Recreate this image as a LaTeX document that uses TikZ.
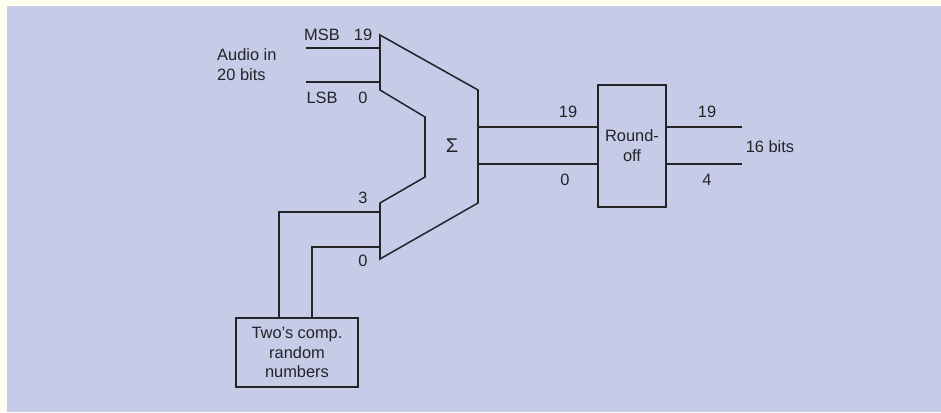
\documentclass[tikz,border=0pt]{standalone}
\usepackage{fontspec}
\setmainfont{Liberation Sans}
\usetikzlibrary{positioning,calc}

\definecolor{paper}{RGB}{198,204,232}
\definecolor{ink}{RGB}{35,35,40}

\tikzset{
  wire/.style={draw=ink, line width=1.3pt},
  blockbox/.style={draw=ink, line width=1.3pt, align=center, inner sep=0pt},
  lbl/.style={font=\fontsize{14}{17}\selectfont, text=ink, inner sep=0pt}
}

\begin{document}
\begin{tikzpicture}[x=0.03cm, y=-0.03cm]
  % Paper and margins
  \useasboundingbox (0,0) rectangle (941,412);
  \fill[white!94!yellow] (0,0) rectangle (941,412);
  \fill[paper] (7,6) rectangle (941,412);

  % Adder outline
  \draw[wire, line join=miter] (380,35) -- (478,90) -- (478,203) -- (380,259)
    -- (380,203) -- (425,177) -- (425,117) -- (380,90) -- cycle;
  \node[lbl, font=\fontsize{17}{20}\selectfont] (sigma) at (452,146) {Σ};

  % Ports of the adder
  \coordinate (msb) at (380,48);
  \coordinate (lsb) at (380,82);
  \coordinate (d3) at (380,212);
  \coordinate (d0) at (380,247);
  \coordinate (s19) at (478,127);
  \coordinate (s0) at (478,164);

  % Free ends
  \coordinate (msbin) at (306,48);
  \coordinate (lsbin) at (306,82);
  \coordinate (out19) at (742,127);
  \coordinate (out4) at (742,164);

  % Blocks
  \node[blockbox, lbl, minimum width=68*0.03cm, minimum height=122*0.03cm]
    (round) at (632,146) {Round-\\off};
  \node[blockbox, lbl, minimum width=122*0.03cm, minimum height=69*0.03cm]
    (rnd) at (297,352.5) {Two’s comp.\\random\\numbers};

  % Audio input
  \draw[wire] (msbin) -- (msb);
  \draw[wire] (lsbin) -- (lsb);
  \node[lbl, align=left, anchor=west] (audio) at (217,65) {Audio in\\20 bits};
  \node[lbl] (msblbl) at (322,35) {MSB};
  \node[lbl] (msbno) at (363,35) {19};
  \node[lbl] (lsblbl) at (322,98) {LSB};
  \node[lbl] (lsbno) at (363,98) {0};

  % Dither input
  \draw[wire] (d3) -| ($(rnd.north)+(-18,0)$);
  \draw[wire] (d0) -| ($(rnd.north)+(15,0)$);
  \node[lbl] (d3no) at (363,198) {3};
  \node[lbl] (d0no) at (363,261) {0};

  % Sum to round-off
  \draw[wire] (s19) -- (round.west |- s19);
  \draw[wire] (s0) -- (round.west |- s0);
  \node[lbl] (s19no) at (568,112) {19};
  \node[lbl] (s0no) at (565,180) {0};

  % Output
  \draw[wire] (round.east |- out19) -- (out19);
  \draw[wire] (round.east |- out4) -- (out4);
  \node[lbl] (o19no) at (707,112) {19};
  \node[lbl] (o4no) at (707,180) {4};
  \node[lbl] (bits) at (770,147) {16 bits};
\end{tikzpicture}
\end{document}
